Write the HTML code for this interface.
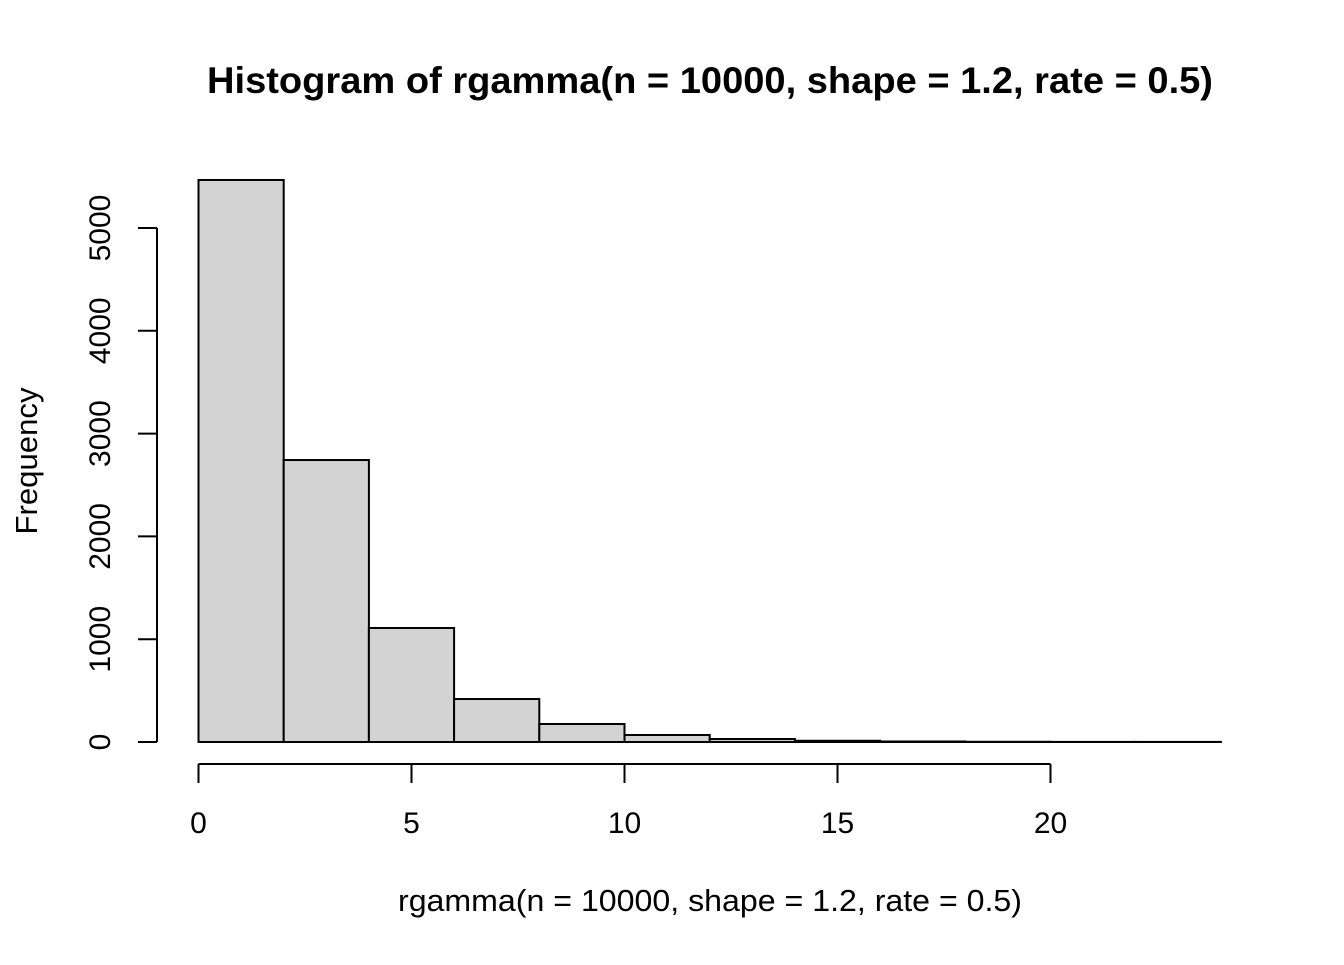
<!DOCTYPE html>
<html><head><meta charset="utf-8"><style>
body{margin:0;background:#fff}
svg text{font-family:"Liberation Sans",Arial,sans-serif;fill:#000}
</style></head><body>
<svg id="chart" width="1344" height="960">
<text x="710" y="93" text-anchor="middle" font-size="37" font-weight="bold" textLength="1006" lengthAdjust="spacingAndGlyphs">Histogram of rgamma(n = 10000, shape = 1.2, rate = 0.5)</text>
<text x="710" y="911" text-anchor="middle" font-size="31" textLength="624" lengthAdjust="spacingAndGlyphs">rgamma(n = 10000, shape = 1.2, rate = 0.5)</text>
<text transform="translate(37,461) rotate(-90)" text-anchor="middle" font-size="31" textLength="147" lengthAdjust="spacingAndGlyphs">Frequency</text>
<g id="bars"></g><g id="xaxis"></g><g id="yaxis"></g>
</svg>
<script>
const binEdges=[0,2,4,6,8,10,12,14,16,18,20,22,24];
const counts=[5467,2743,1109,418,175,68,29,12,5,2,1,1];
const xTicks=[0,5,10,15,20];
const yTicks=[0,1000,2000,3000,4000,5000];
const NS="http://www.w3.org/2000/svg";
const xs=v=>198.5+v*42.6;
const ys=v=>742-v*0.1028;
function mk(t,a,p){const e=document.createElementNS(NS,t);for(const k in a)e.setAttribute(k,a[k]);p.appendChild(e);return e;}
const bars=document.getElementById('bars');
counts.forEach((c,i)=>{
 const r=mk('rect',{x:xs(binEdges[i]),y:ys(c),width:xs(binEdges[i+1])-xs(binEdges[i]),height:742-ys(c),fill:'#d3d3d3',stroke:'#000','stroke-width':2},bars);
 
 
});
const xa=document.getElementById('xaxis');
mk('line',{x1:xs(0),x2:xs(20),y1:764,y2:764,stroke:'#000','stroke-width':2},xa);
xTicks.forEach(t=>{
 mk('line',{x1:xs(t),x2:xs(t),y1:764,y2:783,stroke:'#000','stroke-width':2},xa);
 const tx=mk('text',{x:xs(t),y:833,'text-anchor':'middle','font-size':30},xa);tx.textContent=t;
 
 
});
const ya=document.getElementById('yaxis');
mk('line',{x1:157,x2:157,y1:ys(0),y2:ys(5000),stroke:'#000','stroke-width':2},ya);
yTicks.forEach(t=>{
 mk('line',{x1:138,x2:157,y1:ys(t),y2:ys(t),stroke:'#000','stroke-width':2},ya);
 const tx=mk('text',{transform:`translate(110,${ys(t)}) rotate(-90)`,'text-anchor':'middle','font-size':30},ya);tx.textContent=t;
 
 
});
</script>
</body></html>
